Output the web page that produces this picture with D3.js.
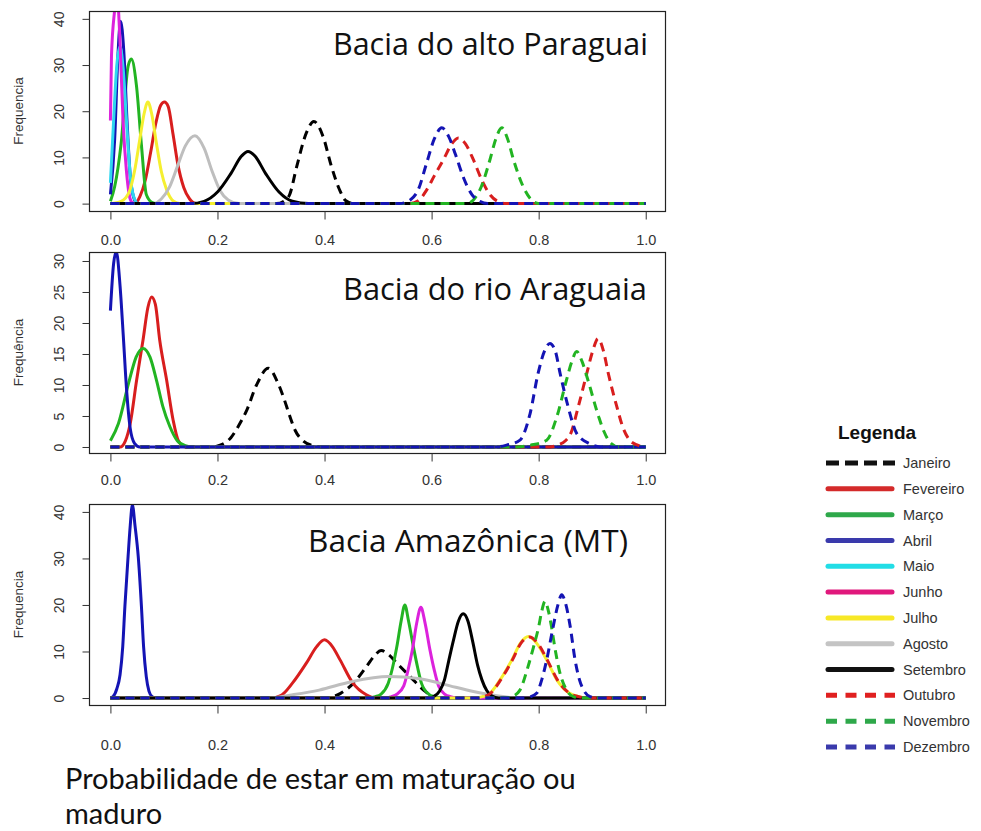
<!DOCTYPE html>
<html>
<head>
<meta charset="utf-8">
<script src="https://cdn.jsdelivr.net/npm/d3@7"></script>
<style>
  body { margin: 0; background: #fff; }
  svg { display: block; }
</style>
</head>
<body>
<svg id="chart" width="981" height="831"></svg>
<script>
// Months (legend order) and which of them are drawn dashed
const months = ['Janeiro', 'Fevereiro', 'Março', 'Abril', 'Maio', 'Junho',
  'Julho', 'Agosto', 'Setembro', 'Outubro', 'Novembro', 'Dezembro'];
const dashedMonths = ['Janeiro', 'Outubro', 'Novembro', 'Dezembro'];

const xTicks = [0, 0.2, 0.4, 0.6, 0.8, 1.0];
const paraguaiTicks = [0, 10, 20, 30, 40];
const araguaiaTicks = [0, 5, 10, 15, 20, 25, 30];
const amazonicaTicks = [0, 10, 20, 30, 40];

const panelTitles = ['Bacia do alto Paraguai', 'Bacia do rio Araguaia', 'Bacia Amazônica (MT)'];
const yLabels = ['Frequencia', 'Frequência', 'Frequencia'];
const xLabelLines = ['Probabilidade de estar em maturação ou', 'maduro'];

// Density curves: [probability, frequency]
const paraguaiCurves = [
  { month: 'Janeiro', points: [[0,0],[0.31,0],[0.325,0.6],[0.335,2],[0.348,8],[0.366,15.3],[0.38,17.8],[0.397,14.6],[0.413,8],[0.428,3],[0.44,0.6],[0.455,0],[1,0]] },
  { month: 'Fevereiro', points: [[0,0],[0.045,0],[0.055,1.5],[0.065,5],[0.075,11],[0.085,17.5],[0.094,21.3],[0.101,22],[0.108,21],[0.117,15],[0.126,8.5],[0.137,3.5],[0.148,1],[0.16,0],[1,0]] },
  { month: 'Março', points: [[0,0.5],[0.008,3.7],[0.02,13],[0.033,29.7],[0.039,31.3],[0.0486,25.6],[0.058,12.6],[0.067,2],[0.077,0.3],[0.085,0],[1,0]] },
  { month: 'Abril', points: [[0,2],[0.008,14],[0.014,32],[0.019,39.5],[0.025,33],[0.031,18],[0.037,6],[0.043,1.5],[0.05,0],[1,0]] },
  { month: 'Maio', points: [[0,4.5],[0.006,18],[0.012,30],[0.018,34],[0.024,29],[0.031,16],[0.038,5],[0.045,1],[0.052,0],[1,0]] },
  { month: 'Junho', points: [[0,18],[0.002,32],[0.008,42],[0.012,46],[0.0176,36],[0.0236,17.8],[0.03,7],[0.035,2],[0.04,0.3],[0.045,0],[1,0]] },
  { month: 'Julho', points: [[0,0],[0.02,0.5],[0.035,2.5],[0.045,7],[0.055,14],[0.063,19.5],[0.07,22],[0.077,19.5],[0.086,13],[0.095,7],[0.105,3],[0.118,0.5],[0.13,0],[1,0]] },
  { month: 'Agosto', points: [[0,0],[0.08,0],[0.095,1],[0.11,3.5],[0.125,8],[0.14,12.5],[0.158,14.7],[0.175,12],[0.19,7],[0.205,2.8],[0.22,0.8],[0.24,0],[1,0]] },
  { month: 'Setembro', points: [[0,0],[0.15,0],[0.175,0.5],[0.2,2.5],[0.225,6.5],[0.245,10.3],[0.257,11.3],[0.27,10.3],[0.29,6.5],[0.315,2.5],[0.34,0.5],[0.37,0],[1,0]] },
  { month: 'Outubro', points: [[0,0],[0.56,0],[0.575,0.6],[0.59,2.8],[0.605,6],[0.622,9.5],[0.638,13],[0.65,14.2],[0.663,13],[0.678,9.5],[0.695,4.8],[0.71,1.8],[0.725,0.4],[0.74,0],[1,0]] },
  { month: 'Novembro', points: [[0,0],[0.665,0],[0.678,0.8],[0.693,3.7],[0.709,9.5],[0.72,14],[0.731,16.4],[0.742,14],[0.753,9.5],[0.771,3.7],[0.785,1],[0.8,0],[1,0]] },
  { month: 'Dezembro', points: [[0,0],[0.54,0],[0.56,0.8],[0.575,3],[0.59,8.5],[0.605,14],[0.619,16.4],[0.632,14.5],[0.645,10.5],[0.66,5.5],[0.675,2],[0.69,0.5],[0.705,0],[1,0]] }
];

const araguaiaCurves = [
  { month: 'Janeiro', points: [[0,0],[0.19,0],[0.205,0.3],[0.225,1.5],[0.24,3.5],[0.255,6],[0.273,10],[0.295,12.7],[0.312,10.5],[0.323,8.1],[0.335,5],[0.345,2.7],[0.36,1],[0.38,0.2],[0.4,0],[1,0]] },
  { month: 'Fevereiro', points: [[0,0],[0.018,0],[0.028,1],[0.037,3.8],[0.049,10.8],[0.061,17.3],[0.07,22.5],[0.077,24.2],[0.084,23],[0.092,17.3],[0.105,10.8],[0.117,4.4],[0.127,1],[0.14,0],[1,0]] },
  { month: 'Março', points: [[0,1],[0.015,3.8],[0.034,10.3],[0.048,14.5],[0.061,15.9],[0.074,14.5],[0.086,10.8],[0.098,6.5],[0.111,3.3],[0.125,1],[0.14,0.2],[0.155,0],[1,0]] },
  { month: 'Abril', points: [[0,22],[0.006,29.6],[0.011,31.5],[0.018,26],[0.024,18],[0.03,9.5],[0.037,3],[0.045,0.6],[0.055,0],[1,0]] },
  { month: 'Outubro', points: [[0,0],[0.82,0],[0.835,0.3],[0.85,1],[0.86,2.2],[0.874,6.5],[0.89,11.9],[0.901,15.5],[0.911,17.5],[0.921,15.5],[0.93,11.9],[0.946,6.5],[0.958,3],[0.97,1.1],[0.985,0.3],[1,0]] },
  { month: 'Novembro', points: [[0,0],[0.76,0],[0.785,0.3],[0.815,1.1],[0.834,4.9],[0.852,10.8],[0.862,13.8],[0.871,15.4],[0.881,13.8],[0.892,10.8],[0.912,4.9],[0.922,2.5],[0.935,0.6],[0.95,0],[1,0]] },
  { month: 'Dezembro', points: [[0,0],[0.72,0],[0.74,0.3],[0.765,1.1],[0.784,5.4],[0.799,11.9],[0.811,15.5],[0.821,16.7],[0.831,15.5],[0.84,11.9],[0.855,6.5],[0.871,2.2],[0.896,0.5],[0.915,0],[1,0]] }
];

const amazonicaCurves = [
  { month: 'Janeiro', points: [[0,0],[0.4,0],[0.415,0.3],[0.43,1],[0.454,3.2],[0.478,6.7],[0.494,9.2],[0.506,10.2],[0.52,9.3],[0.535,7.5],[0.56,4.6],[0.585,1.7],[0.603,0.3],[0.615,0],[1,0]] },
  { month: 'Fevereiro', points: [[0,0],[0.3,0],[0.318,0.5],[0.34,3.2],[0.366,7.5],[0.385,11],[0.4,12.5],[0.415,11],[0.429,8.2],[0.453,3.2],[0.478,0.7],[0.495,0],[1,0]] },
  { month: 'Março', points: [[0,0],[0.48,0],[0.495,0.3],[0.505,0.8],[0.519,3.2],[0.527,6.5],[0.535,11],[0.543,16.5],[0.55,20],[0.557,16.5],[0.566,11],[0.574,6.5],[0.581,3.2],[0.595,0.8],[0.605,0.3],[0.62,0],[1,0]] },
  { month: 'Abril', points: [[0,0],[0.005,0.3],[0.012,2],[0.018,5],[0.023,11],[0.027,19.6],[0.033,30.4],[0.037,37],[0.041,41.5],[0.046,37],[0.052,30.4],[0.058,19.6],[0.062,11],[0.067,4.6],[0.072,1.5],[0.078,0.3],[0.085,0],[1,0]] },
  { month: 'Junho', points: [[0,0],[0.515,0],[0.525,0.3],[0.535,0.8],[0.548,2.6],[0.556,6],[0.564,10.3],[0.572,16],[0.58,19.5],[0.588,16],[0.597,10.3],[0.605,6],[0.613,2.6],[0.625,0.8],[0.635,0.3],[0.65,0],[1,0]] },
  { month: 'Julho', points: [[0,0],[0.68,0],[0.695,0.3],[0.709,1],[0.728,3.9],[0.75,8.2],[0.766,11.8],[0.781,13.2],[0.796,11.8],[0.815,8.2],[0.834,3.9],[0.858,1],[0.875,0.3],[0.89,0],[1,0]] },
  { month: 'Agosto', points: [[0,0],[0.3,0],[0.335,0.6],[0.39,1.7],[0.45,3.5],[0.52,4.6],[0.575,4.2],[0.615,3.2],[0.645,2.3],[0.678,1.4],[0.715,0.6],[0.75,0.1],[0.78,0],[1,0]] },
  { month: 'Setembro', points: [[0,0],[0.595,0],[0.605,0.4],[0.615,1.5],[0.624,3.9],[0.632,8],[0.641,12.5],[0.65,16.5],[0.659,18.1],[0.668,16.5],[0.677,12],[0.686,7],[0.694,3.9],[0.703,1.6],[0.713,0.4],[0.725,0],[1,0]] },
  { month: 'Outubro', points: [[0,0],[0.685,0],[0.698,0.3],[0.71,1],[0.729,3.9],[0.751,8.2],[0.767,11.8],[0.783,13.1],[0.798,11.8],[0.816,8.2],[0.835,3.9],[0.858,1],[0.875,0.3],[0.89,0],[1,0]] },
  { month: 'Novembro', points: [[0,0],[0.735,0],[0.75,0.3],[0.765,1.7],[0.78,6.7],[0.79,10.8],[0.8,15.3],[0.806,18.8],[0.812,20.8],[0.818,18.8],[0.824,15.3],[0.83,11],[0.837,6.7],[0.852,1.7],[0.865,0.3],[0.88,0],[1,0]] },
  { month: 'Dezembro', points: [[0,0],[0.77,0],[0.785,0.3],[0.796,1],[0.806,4],[0.815,8.2],[0.827,15.3],[0.836,20],[0.843,22.2],[0.851,20],[0.859,15.3],[0.868,8.2],[0.876,4],[0.884,1.7],[0.896,0.3],[0.91,0],[1,0]] }
];

// Styles
const lineColor = d3.scaleOrdinal().domain(months).range([
  '#000000', '#d81e1e', '#22b422', '#1414b4', '#2fd6f0', '#dc22dc',
  '#f5ef30', '#bebebe', '#000000', '#d81e1e', '#22b422', '#1414b4']);
const legendColor = d3.scaleOrdinal().domain(months).range([
  '#111111', '#d42a2a', '#2ea84a', '#3a3aac', '#22dde6', '#e0187c',
  '#f7e826', '#c4c4c4', '#111111', '#e02020', '#2ea84a', '#3a3aac']);

const svg = d3.select('#chart');
const axisFont = '"Liberation Sans", Arial, sans-serif';
const titleFont = '"Open Sans", "Noto Sans", sans-serif';
const labelFont = 'Lato, "Open Sans", sans-serif';

const x = d3.scaleLinear().domain([-0.04, 1.036]).range([89, 665]);

const panels = [
  { curves: paraguaiCurves, ticks: paraguaiTicks, ydom: [-1.6, 41.7], top: 11, bottom: 211, labelGap: 29,
    title: { x: 333, width: 315, baseline: 55 } },
  { curves: araguaiaCurves, ticks: araguaiaTicks, ydom: [-0.97, 31.45], top: 252, bottom: 453, labelGap: 27,
    title: { x: 343, width: 304, baseline: 300 } },
  { curves: amazonicaCurves, ticks: amazonicaTicks, ydom: [-1.5, 41.7], top: 504, bottom: 705, labelGap: 40,
    title: { x: 308, width: 320, baseline: 552 } }
];

// Make a text element span a given width by adjusting its font size
function fitWidth(sel, width) {
  const base = parseFloat(sel.attr('font-size'));
  const w = sel.node().getComputedTextLength();
  sel.attr('font-size', (base * width / w).toFixed(2));
}

panels.forEach((p, i) => {
  const y = d3.scaleLinear().domain(p.ydom).range([p.bottom, p.top]);
  const g = svg.append('g');

  g.append('clipPath').attr('id', 'clip' + i)
    .append('rect')
    .attr('x', 89).attr('y', p.top)
    .attr('width', 665 - 89).attr('height', p.bottom - p.top);

  const line = d3.line()
    .x(d => x(d[0]))
    .y(d => y(d[1]))
    .curve(d3.curveMonotoneX);

  g.append('g').attr('clip-path', `url(#clip${i})`)
    .selectAll('path')
    .data(p.curves)
    .join('path')
    .attr('d', d => line(d.points))
    .attr('fill', 'none')
    .attr('stroke', d => lineColor(d.month))
    .attr('stroke-width', 3)
    .attr('stroke-linejoin', 'round')
    .attr('stroke-dasharray', d => dashedMonths.includes(d.month) ? '9,6' : null);

  // plot box
  g.append('rect')
    .attr('x', 89.5).attr('y', p.top + 0.5)
    .attr('width', 665 - 89).attr('height', p.bottom - p.top)
    .attr('fill', 'none').attr('stroke', '#222').attr('stroke-width', 1.2);

  // x axis
  const xAxis = g.append('g')
    .attr('transform', `translate(0,${p.bottom + 0.5})`)
    .call(d3.axisBottom(x).tickValues(xTicks).tickFormat(d3.format('.1f')).tickSize(8));
  xAxis.select('.domain').remove();
  xAxis.selectAll('line').attr('stroke', '#333');
  xAxis.selectAll('text')
    .attr('y', p.labelGap - 6).attr('dy', '0.71em')
    .attr('font-family', axisFont).attr('font-size', 14.5).attr('fill', '#333');

  // y axis with rotated labels
  const yAxis = g.append('g')
    .attr('transform', 'translate(89.5,0)')
    .call(d3.axisLeft(y).tickValues(p.ticks).tickSize(7));
  yAxis.select('.domain').remove();
  yAxis.selectAll('line').attr('stroke', '#333');
  yAxis.selectAll('text')
    .attr('transform', 'rotate(-90)')
    .attr('x', 0).attr('y', -26).attr('dy', 0)
    .attr('text-anchor', 'middle')
    .attr('font-family', axisFont).attr('font-size', 14).attr('fill', '#333');

  g.append('text')
    .attr('transform', `translate(23,${(p.top + p.bottom) / 2}) rotate(-90)`)
    .attr('text-anchor', 'middle')
    .attr('font-family', axisFont).attr('font-size', 13.5).attr('fill', '#333')
    .text(yLabels[i]);

  const title = g.append('text')
    .attr('x', p.title.x).attr('y', p.title.baseline)
    .attr('font-family', titleFont).attr('font-size', 30).attr('fill', '#111')
    .text(panelTitles[i]);
  fitWidth(title, p.title.width);
});

// Bottom axis title (two lines)
svg.append('g').selectAll('text')
  .data(xLabelLines)
  .join('text')
  .attr('x', 65).attr('y', (d, i) => 789 + i * 35)
  .attr('font-family', labelFont).attr('font-size', 29).attr('fill', '#111')
  .text(d => d);

// Legend
const legend = svg.append('g');
legend.append('text')
  .attr('x', 838).attr('y', 439)
  .attr('font-family', axisFont).attr('font-weight', 'bold').attr('font-size', 19).attr('fill', '#111')
  .text('Legenda');

const ly = d3.scalePoint().domain(months).range([463, 747]);
const item = legend.selectAll('g.item')
  .data(months)
  .join('g')
  .attr('class', 'item')
  .attr('transform', d => `translate(0,${ly(d)})`);

item.append('line')
  .attr('x1', d => dashedMonths.includes(d) ? 826 : 828)
  .attr('x2', d => dashedMonths.includes(d) ? 895 : 892)
  .attr('stroke', d => legendColor(d))
  .attr('stroke-width', 5)
  .attr('stroke-linecap', d => dashedMonths.includes(d) ? 'butt' : 'round')
  .attr('stroke-dasharray', d => d === 'Janeiro' ? '13,6' : dashedMonths.includes(d) ? '11,8.5' : null);

item.append('text')
  .attr('x', 903).attr('dy', '0.35em')
  .attr('font-family', axisFont).attr('font-size', 14.5).attr('fill', '#333')
  .text(d => d);
</script>
</body>
</html>
